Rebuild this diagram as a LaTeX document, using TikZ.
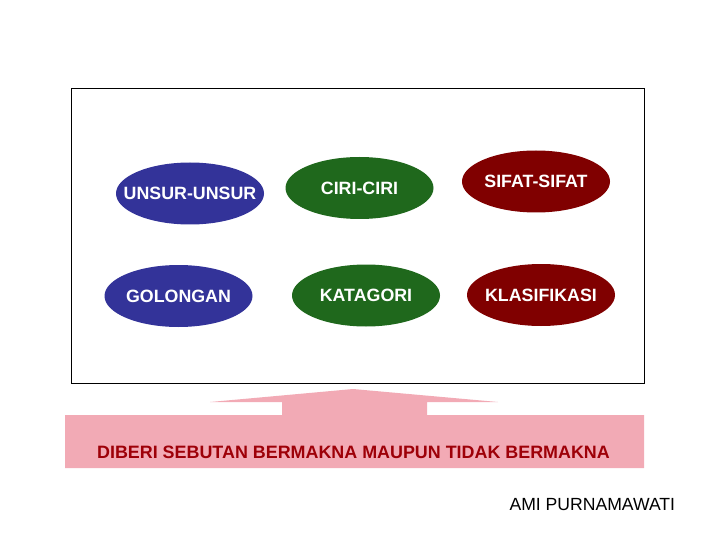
\documentclass[tikz,border=0pt]{standalone}
\usepackage{fontspec}
\setmainfont{Liberation Sans}
\usetikzlibrary{shapes.geometric}
\definecolor{eblue}{RGB}{51,51,153}
\definecolor{egreen}{RGB}{31,104,28}
\definecolor{ered}{RGB}{128,0,0}
\definecolor{pinkbar}{RGB}{242,170,181}
\definecolor{darkred}{RGB}{158,0,8}
\newcommand{\ovaltext}[1]{\makebox[0pt]{#1}}
\tikzset{
  oval/.style={ellipse, minimum width=148pt, minimum height=62pt, inner sep=0pt,
    text=white, font=\fontsize{17.8}{20}\selectfont\bfseries},
  blueoval/.style={oval, fill=eblue},
  greenoval/.style={oval, fill=egreen},
  redoval/.style={oval, fill=ered},
}
\begin{document}
\begin{tikzpicture}[x=1pt,y=-1pt]
\useasboundingbox (0,0) rectangle (720,540);
% frame
\node[draw=black, line width=1pt, minimum width=572.8pt, minimum height=295pt, inner sep=0pt, anchor=north west] (frame) at (70.9,88.3) {};
% ellipses
\node[blueoval]  (unsur)  at (190,193.5) {\ovaltext{UNSUR-UNSUR}};
\node[greenoval] (ciri)   at (359.5,188) {\ovaltext{CIRI-CIRI}};
\node[redoval]   (sifat)  at (536,181.5) {\ovaltext{SIFAT-SIFAT}};
\node[blueoval]  (golong) at (178.5,296) {\ovaltext{GOLONGAN}};
\node[greenoval] (katag)  at (366,295.5) {\ovaltext{KATAGORI}};
\node[redoval]   (klasif) at (541,295) {\ovaltext{KLASIFIKASI}};
% arrow + bar
\fill[pinkbar] (65,415) -- (282,415) -- (282,402) -- (210,402) -- (353,389)
  -- (498,402) -- (427,402) -- (427,415) -- (644,415) -- (644,468) -- (65,468) -- cycle;
\node[anchor=base, text=darkred, font=\fontsize{17.9}{20}\selectfont\bfseries, inner sep=0pt] (label) at (353.5,458.3) {DIBERI SEBUTAN BERMAKNA MAUPUN TIDAK BERMAKNA};
\node[anchor=base, font=\fontsize{17.6}{20}\selectfont, inner sep=0pt] (author) at (592.3,510) {AMI PURNAMAWATI};
\end{tikzpicture}
\end{document}
